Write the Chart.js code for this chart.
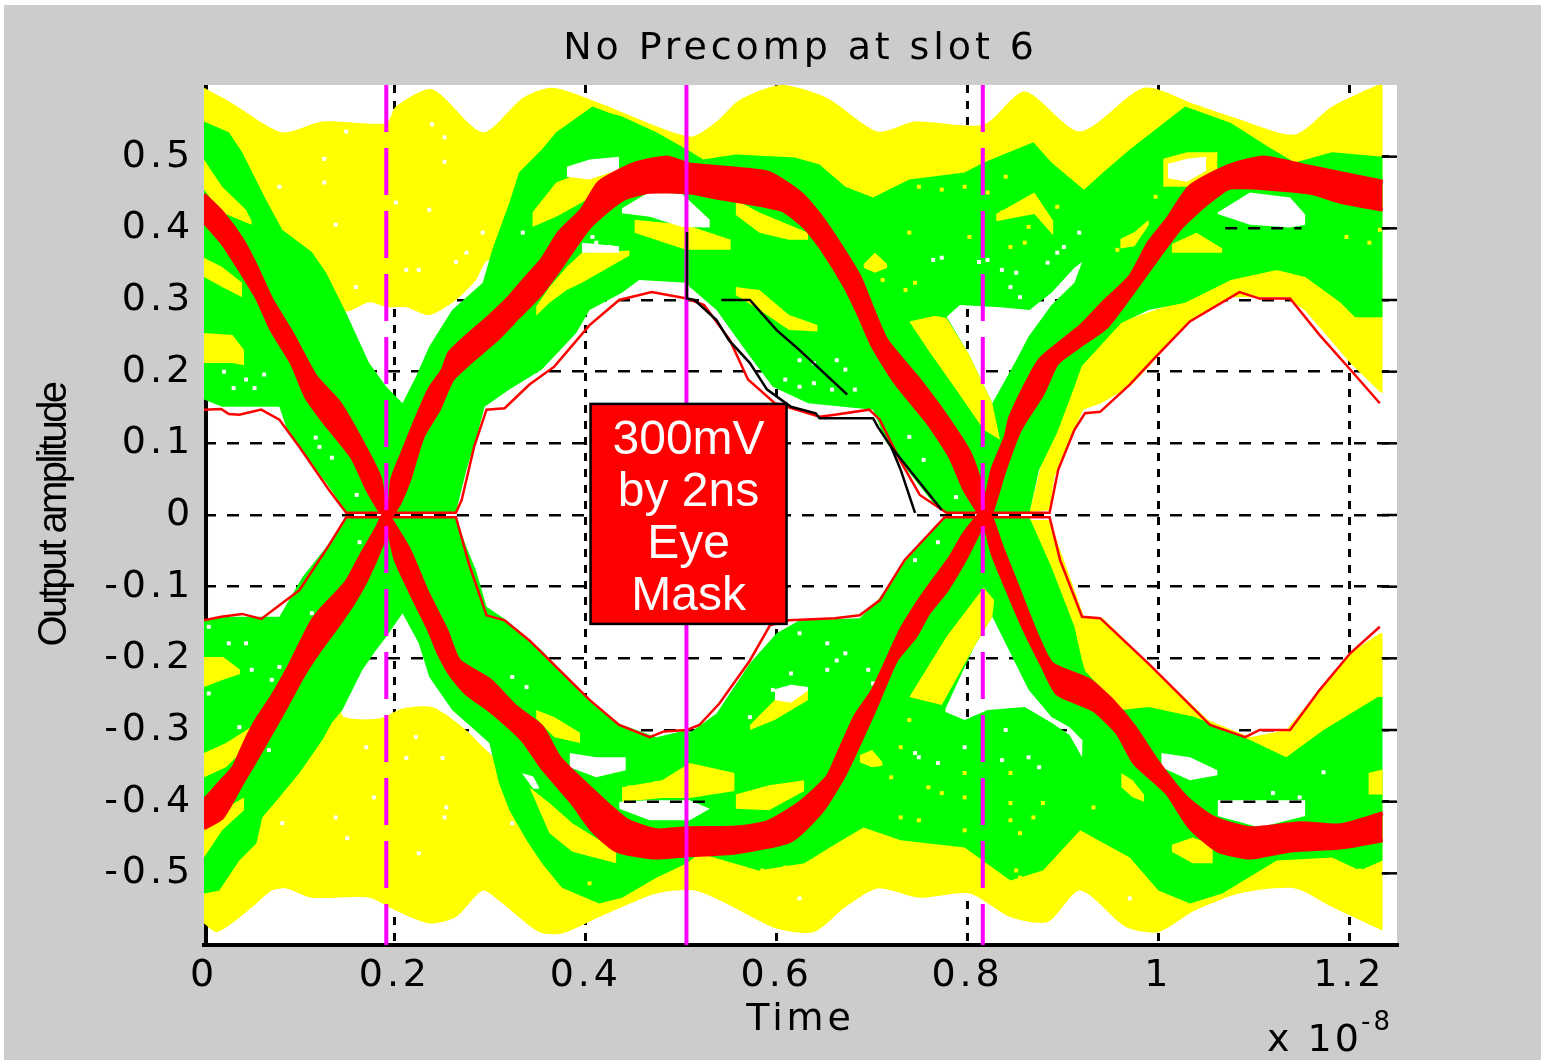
<!DOCTYPE html>
<html>
<head>
<meta charset="utf-8">
<title>No Precomp at slot 6</title>
<script src="https://cdn.jsdelivr.net/npm/chart.js@4"></script>
<style>
    html, body { margin: 0; padding: 0; background: #fff; }
    #eye { position: absolute; left: 4px; top: 5px; background: #cccccc; }
</style>
</head>
<body>
<canvas id="eye" width="1537" height="1055"></canvas>
<script>
// --- 1. Axes ---
const xTicks = [0, 0.2, 0.4, 0.6, 0.8, 1, 1.2];
const yTicks = [-0.5, -0.4, -0.3, -0.2, -0.1, 0, 0.1, 0.2, 0.3, 0.4, 0.5];
const boxLines = ['300mV', 'by 2ns', 'Eye', 'Mask'];

// --- 2. Yellow envelopes ---
const yellowTopT = [0,.029,.082,.124,.191,.201,.239,.292,.334,.365,.414,.509,.537,.561,.605,.653,.706,.745,.817,.860,.918,.985,1.038,1.085,1.143,1.182,1.230,1.235];
const yellowTopV = [.596,.575,.534,.549,.547,.570,.594,.534,.582,.596,.575,.528,.549,.579,.600,.582,.535,.549,.545,.591,.535,.596,.573,.552,.531,.570,.600,.600];
const yellowFloorT = [0,.136,.149,.173,.191,.212,.236,.264,.285,.299,1.235];
const yellowFloorV = [.300,.300,.284,.297,.290,.290,.279,.300,.328,.356,.356];
const yellowLowT = [0,.013,.029,.055,.071,.086,.113,.173,.201,.236,.264,.292,.309,.351,.375,.414,.438,.474,.514,.547,.600,.639,.672,.706,.749,.802,.845,.884,.918,.966,1.000,1.038,1.085,1.143,1.182,1.230,1.235];
const yellowLowV = [-.570,-.582,-.570,-.542,-.524,-.521,-.534,-.534,-.552,-.570,-.561,-.524,-.538,-.582,-.584,-.561,-.547,-.528,-.524,-.542,-.577,-.582,-.547,-.521,-.534,-.528,-.561,-.568,-.524,-.575,-.582,-.552,-.528,-.521,-.547,-.577,-.580];
const yellowCeilT = [0,.136,.147,.184,.208,.239,.271,.299,.320,1.235];
const yellowCeilV = [-.258,-.258,-.282,-.284,-.270,-.268,-.296,-.332,-.356,-.356];
// yellow flanks on the right eye
const flankUpT = [.865,.886,.912,.956,1.028,1.076,1.124,1.235];
const flankUpTopV = [.004,.119,.202,.268,.300,.342,.349,.349];
const flankUpBotT = [.865,.886,.891,.906,.921,.940,.970,.990,1.014,1.038,1.076,1.134,1.154,1.201,1.232,1.235];
const flankUpBotV = [.004,.007,.053,.101,.147,.156,.179,.207,.244,.276,.304,.304,.285,.212,.172,.170];
const flankLowTopT = [.865,.886,.922,.942,.990,1.052,1.096,1.134,1.201,1.232,1.235];
const flankLowTopV = [-.007,-.007,-.142,-.144,-.207,-.286,-.310,-.300,-.193,-.165,-.165];
const flankLowBotT = [.865,.888,.912,.922,.961,1.096,1.134,1.235];
const flankLowBotV = [-.007,-.105,-.189,-.244,-.300,-.342,-.363,-.286];

// --- 3. Green envelopes ---
const greenTopT = [0,.026,.040,.065,.082,.113,.128,.149,.173,.191,.208,.222,.236,.260,.292,.302,.320,.330,.354,.369,.407,.425,.438,.474,.506,.523,.557,.619,.645,.672,.701,.739,.797,.817,.869,.888,.922,.942,.970,1.028,1.076,1.115,1.143,1.182,1.235];
const greenTopV = [.549,.534,.506,.440,.398,.367,.338,.282,.212,.179,.156,.193,.235,.286,.324,.370,.436,.478,.510,.534,.570,.561,.556,.534,.510,.496,.503,.499,.489,.458,.443,.468,.478,.492,.520,.492,.454,.478,.510,.570,.547,.514,.492,.506,.500];
const greenMidT = [0,.019,.079,.086,.103,.128,.149,.264,.275,.285,.294,.320,.354,.390,.404,.438,.456,.506,.509,.537,.572,.596,.633,.701,.715,.739,.764,.778,.7785,.792,.834,.865,.888,.912,.920,.9205,.961,.990,1.028,1.076,1.124,1.154,1.191,1.206,1.235];
const greenMidV = [.161,.151,.151,.123,.087,.045,.004,.004,.063,.105,.151,.175,.203,.254,.286,.310,.328,.324,.318,.286,.221,.179,.156,.147,.101,.059,.017,.004,.277,.293,.290,.286,.310,.345,.353,.209,.268,.286,.296,.328,.342,.332,.296,.276,.276];
const armUpTopT = [.770,.778,.802,.826,.851,.864,.888,.912,.920,.928];
const armUpTopV = [.250,.277,.223,.156,.216,.249,.293,.324,.353,.250];
const armUpBotT = [.770,.778,.865,.875,.894,.912,.920,.928];
const armUpBotV = [.012,.004,.004,.063,.115,.179,.209,.222];
const greenLowTopT = [0,.019,.079,.103,.128,.149,.264,.275,.285,.296,.317,.354,.396,.432,.474,.506,.509,.537,.572,.600,.624,.687,.706,.735,.764,.776,.777,.797,.821,.860,.888,.907,.920,.922,.961,.990,1.038,1.096,1.134,1.173,1.230,1.235];
const greenLowTopV = [-.147,-.142,-.142,-.087,-.045,-.004,-.004,-.045,-.077,-.128,-.147,-.189,-.249,-.290,-.310,-.300,-.304,-.277,-.207,-.165,-.147,-.144,-.119,-.063,-.021,-.004,-.275,-.286,-.272,-.268,-.290,-.307,-.338,-.216,-.272,-.268,-.282,-.314,-.338,-.300,-.254,-.254];
const greenLowBotT = [0,.016,.037,.055,.061,.079,.100,.124,.134,.145,.166,.180,.191,.208,.225,.236,.260,.299,.309,.320,.338,.354,.375,.414,.438,.474,.506,.519,.581,.629,.663,.691,.730,.797,.845,.879,.918,.970,1.000,1.033,1.067,1.124,1.182,1.211,1.235];
const greenLowBotV = [-.528,-.524,-.482,-.458,-.422,-.394,-.360,-.314,-.290,-.272,-.216,-.189,-.170,-.137,-.179,-.226,-.272,-.318,-.374,-.412,-.454,-.486,-.520,-.542,-.534,-.506,-.486,-.472,-.496,-.486,-.458,-.436,-.454,-.464,-.510,-.496,-.440,-.478,-.524,-.542,-.528,-.482,-.478,-.496,-.482];
const armLowTopT = [.770,.777,.865,.888,.912,.920,.928];
const armLowTopV = [-.012,-.004,-.004,-.073,-.156,-.203,-.240];
const armLowBotT = [.770,.777,.807,.826,.845,.864,.888,.907,.920,.928];
const armLowBotV = [-.250,-.270,-.184,-.142,-.193,-.244,-.282,-.296,-.314,-.300];

// wedges inside the right crossing
const wedgeUpTopT = [.739,.766,.778,.802,.826,.834];
const wedgeUpTopV = [.270,.278,.275,.223,.156,.105];
const wedgeUpBotT = [.739,.759,.788,.817,.834];
const wedgeUpBotV = [.270,.230,.175,.119,.105];
const wedgeLowTopT = [.739,.778,.817,.828];
const wedgeLowTopV = [-.254,-.170,-.101,-.119];
const wedgeLowBotT = [.739,.773,.807,.826,.828];
const wedgeLowBotV = [-.254,-.265,-.184,-.142,-.119];

// --- 4. Patches: [time, top, bottom] ---
const yellowPatches = [
    [[0,.019,.044,.05], [.496,.458,.426,.41], [.454,.422,.408,.405]],
    [[0,.019,.040], [.359,.346,.324], [.332,.318,.304]],
    [[0,.03,.042], [.254,.251,.230], [.212,.212,.209]],
    [[.344,.369,.396,.432], [.422,.464,.478,.489], [.402,.416,.436,.468]],
    [[.348,.362,.380,.396,.446], [.291,.318,.346,.366,.369], [.278,.296,.314,.324,.362]],
    [[.451,.505,.552], [.412,.405,.384], [.394,.370,.370]],
    [[.557,.582,.613,.633], [.440,.422,.405,.394], [.419,.394,.384,.384]],
    [[.557,.582,.613,.643], [.318,.314,.279,.265], [.307,.286,.258,.256]],
    [[.691,.703,.716], [.350,.366,.350], [.345,.338,.345]],
    [[.960,.975,.990], [.385,.395,.412], [.372,.375,.405]],
    [[1.005,1.03,1.062], [.497,.506,.506], [.458,.458,.480]],
    [[1.014,1.04,1.067], [.378,.394,.372], [.366,.366,.366]],
    [[.83,.87,.89], [.42,.45,.41], [.41,.42,.39]],
    [[0,.02,.038], [-.198,-.198,-.216], [-.240,-.230,-.222]],
    [[0,.023,.049], [-.332,-.318,-.296], [-.366,-.352,-.318]],
    [[0,.019,.042], [-.437,-.412,-.394], [-.478,-.44,-.412]],
    [[.341,.362,.386,.432], [-.380,-.402,-.430,-.468], [-.380,-.444,-.470,-.486]],
    [[.348,.367,.394], [-.272,-.282,-.304], [-.284,-.310,-.318]],
    [[.438,.48,.509,.556], [-.38,-.37,-.346,-.36], [-.40,-.395,-.395,-.385]],
    [[.557,.592,.629], [-.39,-.377,-.370], [-.41,-.412,-.385]],
    [[.572,.598,.633], [-.293,-.258,-.244], [-.300,-.286,-.258]],
    [[.687,.70,.711], [-.335,-.328,-.345], [-.345,-.352,-.35]],
    [[.961,.973,.985], [-.360,-.370,-.39], [-.38,-.394,-.40]],
    [[1.014,1.036,1.057], [-.46,-.45,-.46], [-.47,-.486,-.486]],
    [[1.22,1.235], [-.36,-.355], [-.39,-.39]]
];
const whitePatches = [
    [[.380,.404,.435], [.486,.496,.500], [.472,.468,.482]],
    [[.396,.435], [.380,.375], [.366,.366]],
    [[.438,.467,.501,.530], [.428,.451,.448,.412], [.421,.416,.402,.401]],
    [[1.01,1.03,1.05], [.490,.497,.500], [.470,.465,.480]],
    [[1.062,1.096,1.138,1.154], [.422,.450,.443,.419], [.420,.405,.401,.405]],
    [[.333,.345,.351], [-.360,-.365,-.380], [-.360,-.382,-.382]],
    [[.383,.411,.442], [-.332,-.338,-.338], [-.352,-.366,-.356]],
    [[.435,.467,.509,.530], [-.40,-.398,-.398,-.41], [-.41,-.426,-.426,-.41]],
    [[.598,.615,.633], [-.243,-.237,-.24], [-.258,-.262,-.245]],
    [[1.003,1.033,1.062], [-.332,-.338,-.356], [-.352,-.37,-.363]],
    [[1.062,1.106,1.154], [-.398,-.398,-.398], [-.42,-.436,-.42]]
];
// grid pieces showing through the white holes: [from, to, level]
const holeGrid = [[.44, .53, -.4], [1.065, 1.15, -.4], [1.07, 1.15, .4]];

// single stray samples
const whiteSpeckT = [.334,.407,.411,.425,.021,.031,.044,.053,.063,.117,.121,.134,.160,.764,.773,.812,.821,.836,.851,.884,.894,.901,.845,.855,.624,.639,.663,.672,.609,.624,.639,.658,.682,.917,.739,.754,.788,.596,.572,.624,.653,.672,.615,.653,.663,.696,.701,.745,.749,.769,.836,.864,.875,.840,.797,.769,.745,1.120,1.148,1.173,.624,.970,.163,.005,.026,.044,.079,.071,.050,.005,.037,.068,.113,.178,.082,.138,.323,.323,.338,.149,.126,.126,.079,.138,.292,.275,.264,.225,.212,.159,.239,.252,.252,.201,.236,.150,.225,.252,.254,.212,.250,.222,.170];
const whiteSpeckV = [.394,.388,.380,.374,.200,.177,.189,.177,.196,.108,.095,.080,.028,.356,.359,.353,.356,.342,.338,.352,.366,.374,.318,.304,.216,.212,.216,.203,.189,.179,.184,.175,.175,.394,.109,.077,.025,-.244,-.282,-.165,-.179,-.193,-.221,-.216,-.203,-.216,-.235,-.332,-.338,-.346,-.342,-.338,-.352,-.300,-.324,-.038,-.063,-.388,-.394,-.359,-.535,-.535,-.038,-.156,-.179,-.179,-.212,-.230,-.216,-.249,-.296,-.328,-.137,-.394,-.430,-.422,-.430,-.226,-.240,.535,.497,.464,.458,.405,.394,.366,.353,.342,.342,.318,.545,.527,.493,.436,.426,-.451,-.472,-.422,-.408,-.339,-.339,-.310,-.324];
const yellowSpeckT = [.739,.749,.773,.797,.821,.840,.836,.860,.864,.845,.894,.735,.745,.997,1.232,1.221,1.197,.711,.802,.957,.739,.720,.759,.797,.845,.773,.797,.845,.879,.730,.749,.845,.855,.797,.869,.932,.730,.851,.855,.585,.609,1.211,1.197,.446,.404,.474];
const yellowSpeckV = [.394,.458,.454,.458,.450,.472,.422,.380,.402,.374,.430,.314,.324,.444,.398,.380,.388,.328,.388,.370,-.286,-.366,-.380,-.360,-.360,-.388,-.394,-.402,-.402,-.422,-.426,-.426,-.444,-.440,-.422,-.408,-.324,-.496,-.506,-.496,-.492,-.496,-.450,-.380,-.514,-.374];

// --- 5. Thin mask outline ---
const maskUpT = [0,.018,.026,.037,.060,.079,.100,.131,.149,.264,.270,.283,.296,.315,.341,.367,.404,.435,.469,.506,.524,.551,.570,.598,.645,.661,.697,.708,.729,.750,.778,.886,.895,.912,.923,.939,.970,.996,1.033,1.085,1.106,1.138,1.169,1.201,1.232];
const maskUpV = [.147,.148,.141,.140,.147,.133,.095,.035,.003,.003,.021,.095,.147,.149,.182,.207,.265,.300,.311,.302,.293,.244,.189,.156,.137,.140,.147,.133,.077,.028,.003,.003,.063,.119,.142,.144,.182,.219,.270,.311,.302,.302,.251,.203,.156];
const maskLowT = [0,.018,.040,.060,.079,.100,.131,.149,.264,.278,.296,.315,.341,.404,.435,.467,.482,.506,.519,.540,.572,.593,.613,.661,.687,.708,.734,.776,.886,.897,.920,.939,.991,1.054,1.091,1.106,1.138,1.169,1.201,1.232];
const maskLowV = [-.147,-.142,-.138,-.145,-.126,-.105,-.042,-.003,-.003,-.070,-.140,-.147,-.175,-.258,-.293,-.310,-.302,-.300,-.293,-.263,-.203,-.154,-.147,-.144,-.140,-.119,-.063,-.003,-.003,-.063,-.142,-.144,-.209,-.293,-.310,-.300,-.300,-.244,-.193,-.156];

// --- 6. Black traces ---
const blackMainT = [.506,.506,.514,.537,.550,.572,.590,.615,.641,.645,.701,.706,.720,.730,.745];
const blackMainV = [.395,.302,.300,.272,.244,.212,.175,.151,.142,.135,.135,.123,.095,.063,.003];
const blackForkT = [.720,.773];
const blackForkV = [.095,.007];
const blackSideT = [.542,.572,.600,.624,.674];
const blackSideV = [.300,.300,.258,.230,.168];

// --- 7. Thick red traces ---
const redAUpT = [0,.019,.040,.055,.071,.092,.117,.142,.166,.184,.189,.191,.194,.215,.233,.254,.267,.299,.327,.354,.372,.407,.443,.474,.506,.557,.590,.624,.653,.663,.682,.701,.730,.745,.759,.782,.797,.812,.817,.826,.840,.845,.869,.879,.918,.942,.970,.990,1.009,1.033,1.072,1.110,1.158,1.235];
const redAUpV = [.447,.422,.384,.346,.300,.254,.193,.156,.101,.053,.017,.001,-.003,-.049,-.105,-.161,-.203,-.230,-.268,-.296,-.338,-.384,-.426,-.440,-.437,-.436,-.429,-.402,-.366,-.338,-.282,-.244,-.161,-.128,-.101,-.059,-.025,0,.007,.063,.109,.137,.202,.221,.263,.296,.332,.380,.412,.458,.486,.499,.486,.465];
const redALowT = [0,.019,.031,.055,.071,.092,.107,.124,.155,.170,.184,.191,.192,.201,.222,.236,.246,.260,.275,.299,.334,.354,.386,.407,.432,.470,.506,.557,.615,.648,.672,.701,.725,.745,.759,.778,.797,.817,.826,.838,.855,.879,.894,.922,.946,.975,1.000,1.024,1.052,1.076,1.158,1.191,1.235];
const redALowV = [.409,.380,.356,.304,.258,.212,.165,.133,.081,.039,.007,-.001,-.011,-.063,-.123,-.161,-.193,-.226,-.249,-.272,-.314,-.352,-.402,-.440,-.468,-.478,-.475,-.471,-.454,-.412,-.360,-.277,-.203,-.170,-.137,-.105,-.063,-.011,.007,.059,.119,.170,.212,.240,.263,.314,.360,.402,.436,.457,.450,.437,.426];
const redBUpT = [0,.007,.019,.031,.044,.056,.071,.089,.096,.112,.124,.149,.166,.180,.189,.194,.197,.208,.222,.236,.250,.257,.275,.299,.320,.338,.354,.372,.396,.414,.449,.485,.509,.590,.624,.643,.663,.687,.701,.715,.749,.778,.802,.817,.821,.826,.836,.851,.869,.888,.927,.951,.975,1.000,1.029,1.057,1.096,1.148,1.191,1.235];
const redBUpV = [-.398,-.388,-.370,-.352,-.314,-.284,-.254,-.212,-.193,-.151,-.130,-.094,-.053,-.021,.003,.007,.049,.087,.133,.175,.202,.226,.249,.277,.304,.332,.356,.394,.426,.464,.489,.499,.489,.478,.450,.422,.384,.332,.286,.244,.189,.137,.087,.031,.007,-.007,-.045,-.095,-.156,-.207,-.230,-.258,-.296,-.346,-.394,-.422,-.437,-.430,-.433,-.416];
const redBLowT = [0,.019,.040,.056,.068,.086,.103,.119,.142,.155,.170,.187,.194,.205,.215,.229,.246,.260,.278,.306,.330,.354,.372,.404,.438,.467,.509,.537,.605,.629,.648,.672,.687,.701,.725,.759,.782,.797,.810,.817,.826,.845,.860,.879,.894,.932,.957,.975,1.009,1.033,1.062,1.096,1.139,1.191,1.235];
const redBLowV = [-.437,-.422,-.374,-.338,-.310,-.268,-.226,-.193,-.151,-.126,-.091,-.039,-.007,.017,.049,.109,.147,.189,.212,.244,.277,.310,.342,.402,.440,.451,.450,.443,.426,.402,.370,.318,.277,.235,.184,.128,.081,.035,.007,-.007,-.053,-.115,-.161,-.212,-.249,-.272,-.304,-.346,-.388,-.436,-.468,-.478,-.468,-.464,-.454];

// --- 8. Marker lines and the eye mask box ---
const solidMarkT = 0.5055;
const dashedMarkT = [0.191, 0.816];
const boxT = [0.405, 0.6104];
const boxV = [0.155, -0.152];
const yRange = [-0.6, 0.6];
const xRange = [0, 1.25];
const spineT = 0.0021;

const pts = (t, v) => t.map((x, i) => ({ x: x, y: v[i] }));
const datasets = [];

function edge(points, extra) {
    datasets.push(Object.assign({
        data: points, pointRadius: 0, borderWidth: 0, tension: 0, fill: false, spanGaps: true
    }, extra));
}

// lower edge first, the upper edge then fills down to it
function band(topT, topV, botT, botV, color, extra) {
    edge(pts(botT, botV), extra);
    edge(pts(topT, topV), Object.assign({ fill: '-1', backgroundColor: color }, extra));
}

function line(t, v, color, width, dash) {
    edge(pts(t, v), { borderColor: color, borderWidth: width, borderDash: dash || [], borderCapStyle: 'butt' });
}

function specks(t, v, color) {
    edge(pts(t, v), { showLine: false, pointStyle: 'rect', pointRadius: 2.8, pointBackgroundColor: color, pointBorderWidth: 0 });
}

const YELLOW = '#ffff00', GREEN = '#00ff00', RED = '#ff0000', MAGENTA = '#ff00ff', WHITE = '#ffffff', BLACK = '#000000';
const smooth = { tension: 0.25 };
const redEdge = { tension: 0.2, borderColor: RED, borderWidth: 4 };

// painted bottom to top
line([spineT, spineT], yRange, BLACK, 4);
band(yellowTopT, yellowTopV, yellowFloorT, yellowFloorV, YELLOW, smooth);
band(yellowCeilT, yellowCeilV, yellowLowT, yellowLowV, YELLOW, smooth);
band(flankUpT, flankUpTopV, flankUpBotT, flankUpBotV, YELLOW);
band(flankLowTopT, flankLowTopV, flankLowBotT, flankLowBotV, YELLOW);
band(greenTopT, greenTopV, greenMidT, greenMidV, GREEN);
band(armUpTopT, armUpTopV, armUpBotT, armUpBotV, GREEN);
band(greenLowTopT, greenLowTopV, greenLowBotT, greenLowBotV, GREEN);
band(armLowTopT, armLowTopV, armLowBotT, armLowBotV, GREEN);
band(wedgeUpTopT, wedgeUpTopV, wedgeUpBotT, wedgeUpBotV, YELLOW);
band(wedgeLowTopT, wedgeLowTopV, wedgeLowBotT, wedgeLowBotV, YELLOW);
yellowPatches.forEach(p => band(p[0], p[1], p[0], p[2], YELLOW));
whitePatches.forEach(p => band(p[0], p[1], p[0], p[2], WHITE));
holeGrid.forEach(g => line([g[0], g[1]], [g[2], g[2]], BLACK, 2.5, [12, 11]));
specks(whiteSpeckT, whiteSpeckV, WHITE);
specks(yellowSpeckT, yellowSpeckV, YELLOW);
line(maskUpT, maskUpV, RED, 2.5);
line(maskLowT, maskLowV, RED, 2.5);
band(redAUpT, redAUpV, redALowT, redALowV, RED, redEdge);
band(redBUpT, redBUpV, redBLowT, redBLowV, RED, redEdge);
dashedMarkT.forEach(t => line([t, t], [yRange[1], yRange[0]], MAGENTA, 4, [47, 16]));
line([solidMarkT, solidMarkT], [yRange[1], yRange[0]], MAGENTA, 4);
line(blackMainT, blackMainV, BLACK, 2.5);
line(blackForkT, blackForkV, BLACK, 2.5);
line(blackSideT, blackSideV, BLACK, 2.5);
yTicks.forEach(v => line([1.234, 1.25], [v, v], BLACK, 2.5));
datasets.forEach((d, i) => { d.order = datasets.length - i; });

// --- 9. Plugins: letter spacing, plot background, box and exponent ---
const TEXT_SPACING = '3.9px';

const plotDecor = {
    id: 'plotDecor',
    afterLayout(chart) {
        const y = chart.scales.y;
        if (y.spacingWrapped) return;
        y.spacingWrapped = true;
        const drawTitle = y.drawTitle;
        y.drawTitle = function () {
            chart.ctx.letterSpacing = '-2.6px';
            drawTitle.call(y);
            chart.ctx.letterSpacing = TEXT_SPACING;
        };
    },
    beforeDraw(chart) {
        const { ctx, chartArea: a } = chart;
        ctx.fillStyle = '#fff';
        ctx.fillRect(a.left, a.top, a.right - a.left, a.bottom - a.top);
        ctx.letterSpacing = TEXT_SPACING;
    },
    afterDatasetsDraw(chart) {
        const { ctx, scales } = chart;
        const left = scales.x.getPixelForValue(boxT[0]);
        const right = scales.x.getPixelForValue(boxT[1]);
        const top = scales.y.getPixelForValue(boxV[0]);
        const bottom = scales.y.getPixelForValue(boxV[1]);
        ctx.save();
        ctx.letterSpacing = '0px';
        ctx.fillStyle = RED;
        ctx.strokeStyle = BLACK;
        ctx.lineWidth = 2.5;
        ctx.fillRect(left, top, right - left, bottom - top);
        ctx.strokeRect(left, top, right - left, bottom - top);
        ctx.fillStyle = WHITE;
        ctx.font = '48px "Liberation Sans"';
        ctx.textAlign = 'center';
        ctx.textBaseline = 'alphabetic';
        boxLines.forEach((s, i) => ctx.fillText(s, (left + right) / 2, top + 50 + i * 52));
        ctx.restore();
    },
    afterDraw(chart) {
        const { ctx, chartArea: a } = chart;
        ctx.save();
        ctx.letterSpacing = '3px';
        ctx.fillStyle = BLACK;
        ctx.textAlign = 'left';
        ctx.textBaseline = 'alphabetic';
        ctx.font = '38px "DejaVu Sans"';
        ctx.fillText('x 10', a.right - 130, a.bottom + 106);
        ctx.font = '26px "DejaVu Sans"';
        ctx.fillText('-8', a.right - 36, a.bottom + 85);
        ctx.restore();
    }
};

// --- 10. Chart ---
new Chart(document.getElementById('eye'), {
    type: 'line',
    data: { datasets: datasets },
    plugins: [plotDecor],
    options: {
        responsive: false,
        devicePixelRatio: 1,
        animation: false,
        layout: { padding: { left: 0, right: 144, top: 0, bottom: 0 } },
        plugins: {
            legend: { display: false },
            tooltip: { enabled: false },
            title: {
                display: true,
                text: 'No Precomp at slot 6',
                color: BLACK,
                fullSize: false,
                font: { family: '"DejaVu Sans"', size: 38, weight: 'normal' },
                padding: { top: 21, bottom: 13.4 }
            }
        },
        scales: {
            x: {
                type: 'linear',
                min: xRange[0],
                max: xRange[1],
                afterFit: s => { s.height = 115; },
                afterBuildTicks: s => { s.ticks = xTicks.map(v => ({ value: v })); },
                grid: { color: c => (c.tick && c.tick.value === 0 ? 'rgba(0,0,0,0)' : BLACK), lineWidth: 3, drawTicks: false },
                border: { color: BLACK, width: 4, dash: [8, 8] },
                ticks: { color: BLACK, padding: 8, maxRotation: 0, autoSkip: false, font: { family: '"DejaVu Sans"', size: 38 }, callback: v => String(v) },
                title: { display: true, text: 'Time', color: BLACK, padding: { top: 2, bottom: 17 }, font: { family: '"DejaVu Sans"', size: 38 } }
            },
            y: {
                min: yRange[0],
                max: yRange[1],
                afterFit: s => { s.width = 200; },
                afterBuildTicks: s => { s.ticks = yTicks.map(v => ({ value: v })); },
                grid: { color: BLACK, lineWidth: 2.5, drawTicks: false },
                border: { display: false, dash: [12, 11] },
                ticks: { color: BLACK, padding: 10, autoSkip: false, font: { family: '"DejaVu Sans"', size: 38 }, callback: v => String(v) },
                title: { display: true, text: 'Output amplitude', color: BLACK, padding: { top: 27, bottom: 0 }, font: { family: '"Liberation Sans"', size: 40 } }
            }
        }
    }
});
</script>
</body>
</html>
